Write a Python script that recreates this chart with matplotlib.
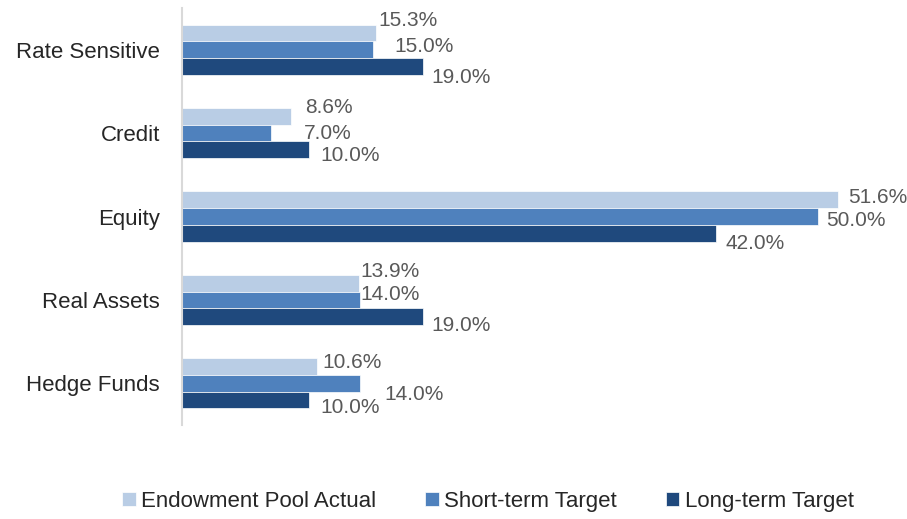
import matplotlib.pyplot as plt
import numpy as np

categories = ['Rate Sensitive', 'Credit', 'Equity', 'Real Assets', 'Hedge Funds']
series = ['Endowment Pool Actual', 'Short-term Target', 'Long-term Target']
actual = [15.3, 8.6, 51.6, 13.9, 10.6]
short_term = [15.0, 7.0, 50.0, 14.0, 14.0]
long_term = [19.0, 10.0, 42.0, 19.0, 10.0]

colors = ['#B9CDE5', '#4F81BD', '#1F497D']
text_color = '#595959'

# label offsets in pixels (dx, dy) per series / category, mimicking excel placement
offsets = [
    [(2, 13), (14, 9), (10, 2), (2, 12), (6, 4)],
    [(22, 3), (33, 0), (9, -4), (0, 5), (24, -11)],
    [(8, -11), (11, -6), (10, -10), (8, -9), (11, -8)],
]

plt.rcParams['font.family'] = ['Liberation Sans', 'DejaVu Sans']

fig = plt.figure(figsize=(9.07, 5.19), dpi=100)
ax = fig.add_axes([182 / 907, 1 - 425 / 519, 56 * 12.71 / 907, 417 / 519])

y = np.arange(len(categories))
h = 0.2
values = [actual, short_term, long_term]
for i, (name, vals) in enumerate(zip(series, values)):
    pos = y + (i - 1) * h
    ax.barh(pos, vals, height=h, color=colors[i], label=name,
            edgecolor='white', linewidth=0.5)
    for j, v in enumerate(vals):
        dx, dy = offsets[i][j]
        ax.annotate(f'{v:.1f}%', xy=(v, pos[j]), xytext=(dx * 0.72, dy * 0.72),
                    textcoords='offset points', ha='left', va='center',
                    fontsize=15, color=text_color)

ax.set_ylim(len(categories) - 0.5, -0.5)
ax.set_xlim(0, 56)
ax.set_yticks(y)
ax.set_yticklabels(categories, fontsize=16, color='#262626')
ax.tick_params(axis='y', length=0, pad=16)
ax.set_xticks([])
for s in ['top', 'right', 'bottom']:
    ax.spines[s].set_visible(False)
ax.spines['left'].set_color('#D9D9D9')
ax.spines['left'].set_linewidth(1.5)

fig.legend(loc='lower center', bbox_to_anchor=(0.538, -0.025), ncol=3,
           frameon=False, fontsize=16, handlelength=0.6, handleheight=0.6,
           handletextpad=0.25, columnspacing=2.2, labelcolor='#262626')

fig.savefig('out.png', dpi=100)
